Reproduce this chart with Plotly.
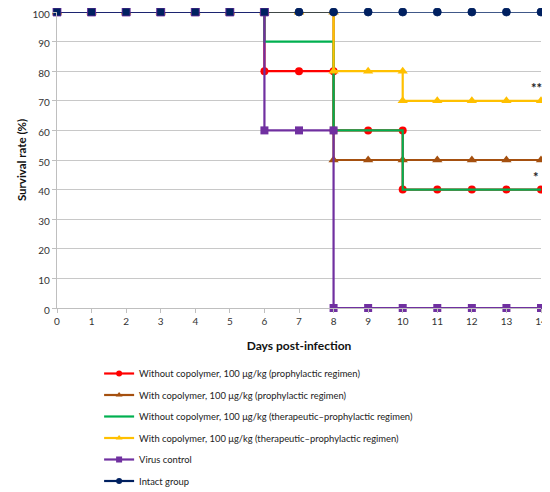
import plotly.graph_objects as go

# ---- data ----
names = [
    "Without copolymer, 100 μg/kg (prophylactic regimen)",
    "With copolymer, 100 μg/kg (prophylactic regimen)",
    "Without copolymer, 100 μg/kg (therapeutic–prophylactic regimen)",
    "With copolymer, 100 μg/kg (therapeutic–prophylactic regimen)",
    "Virus control",
    "Intact group",
]

red_x = [0, 1, 2, 3, 4, 5, 6, 6, 7, 8, 8, 9, 10, 10, 11, 12, 13, 14]
red_y = [100, 100, 100, 100, 100, 100, 100, 80, 80, 80, 60, 60, 60, 40, 40, 40, 40, 40]

brown_x = [0, 1, 2, 3, 4, 5, 6, 7, 8, 8, 9, 10, 11, 12, 13, 14]
brown_y = [100, 100, 100, 100, 100, 100, 100, 100, 100, 50, 50, 50, 50, 50, 50, 50]

green_x = [0, 1, 2, 3, 4, 5, 6, 6, 7, 8, 8, 9, 10, 10, 11, 12, 13, 14]
green_y = [100, 100, 100, 100, 100, 100, 100, 90, 90, 90, 60, 60, 60, 40, 40, 40, 40, 40]

yellow_x = [0, 1, 2, 3, 4, 5, 6, 7, 8, 8, 9, 10, 10, 11, 12, 13, 14]
yellow_y = [100, 100, 100, 100, 100, 100, 100, 100, 100, 80, 80, 80, 70, 70, 70, 70, 70]

purple_x = [0, 1, 2, 3, 4, 5, 6, 6, 7, 8, 8, 9, 10, 11, 12, 13, 14]
purple_y = [100, 100, 100, 100, 100, 100, 100, 60, 60, 60, 0, 0, 0, 0, 0, 0, 0]

intact_x = [0, 1, 2, 3, 4, 5, 6, 7, 8, 9, 10, 11, 12, 13, 14]
intact_y = [100, 100, 100, 100, 100, 100, 100, 100, 100, 100, 100, 100, 100, 100, 100]
# marker shape per intact point (squares on days 0-6 as in the original)
intact_symbols = ["square"] * 7 + ["circle"] * 8

sig_x = [14, 14]
sig_y = [70, 40]
sig_text = ["**", "*"]

x_ticks = list(range(0, 15))
y_ticks = list(range(0, 101, 10))

# ---- styles ----
RED = "#FF0000"
BROWN = "#A5500F"
GREEN = "#00B050"
YELLOW = "#FFC000"
PURPLE = "#7030A0"
NAVY = "#002060"
FONT = "Lato"

fig = go.Figure()

series = [
    (red_x, red_y, RED, "circle", True, 8),
    (brown_x, brown_y, BROWN, "triangle-up", True, 9),
    (green_x, green_y, GREEN, None, False, 8),
    (yellow_x, yellow_y, YELLOW, "triangle-up", True, 9),
    (purple_x, purple_y, PURPLE, "square", True, 8),
]

for (xs, ys, col, sym, mk, sz) in series:
    fig.add_trace(go.Scatter(
        x=xs, y=ys, mode="lines+markers" if mk else "lines",
        line=dict(color=col, width=2.2),
        marker=dict(symbol=sym or "circle", size=sz, color=col),
        showlegend=False, cliponaxis=False, hoverinfo="skip",
    ))

fig.add_trace(go.Scatter(
    x=intact_x, y=intact_y, mode="lines+markers",
    line=dict(color=NAVY, width=1.6),
    marker=dict(symbol=intact_symbols, size=8, color=NAVY,
                line=dict(color=[PURPLE] * 7 + [NAVY] * 8, width=0.8)),
    showlegend=False, cliponaxis=False, hoverinfo="skip",
))

# legend proxies (smaller markers, like the original legend)
leg_styles = [(RED, "circle"), (BROWN, "triangle-up"), (GREEN, None),
              (YELLOW, "triangle-up"), (PURPLE, "square"), (NAVY, "circle")]
for i, (nm, (col, sym)) in enumerate(zip(names, leg_styles)):
    fig.add_trace(go.Scatter(
        x=[None], y=[None], name=nm, legendgroup=str(i),
        mode="lines+markers" if sym else "lines",
        line=dict(color=col, width=2.2),
        marker=dict(symbol=sym or "circle", size=6, color=col),
    ))

for sx, sy, st in zip(sig_x, sig_y, sig_text):
    fig.add_annotation(x=sx, y=sy, text="<b>%s</b>" % st, showarrow=False,
                       yshift=3, xshift=-5, xanchor="center", yanchor="bottom",
                       font=dict(family=FONT, size=13, color="#222222"))

# the page adds an 8px body margin, so the figure is 8px smaller on each side
fig.update_layout(
    width=542, height=484,
    margin=dict(l=49, r=9, t=4, b=184, autoexpand=False),
    plot_bgcolor="white", paper_bgcolor="white",
    font=dict(family=FONT, size=10, color="#333333"),
    xaxis=dict(range=[0, 14], tickvals=x_ticks, showgrid=False, zeroline=False,
               showline=True, linecolor="#BFBFBF", linewidth=1.3,
               ticks="outside", ticklen=4, tickcolor="#BFBFBF", automargin=False,
               ticklabeloverflow="allow",
               tickfont=dict(size=10, color="#333333", family=FONT),
               title=dict(text="<b>Days post-infection</b>", standoff=15,
                          font=dict(size=12, color="#111111", family=FONT))),
    yaxis=dict(range=[0, 100], tickvals=y_ticks, showgrid=True,
               gridcolor="#C8C8C8", gridwidth=1.1, zeroline=False,
               showline=True, linecolor="#BFBFBF", linewidth=1.3,
               ticks="outside", ticklen=4, tickcolor="#BFBFBF", automargin=False,
               ticklabeloverflow="allow", ticklabelshift=2,
               tickfont=dict(size=10, color="#333333", family=FONT),
               title=dict(text="<b>Survival rate (%)</b>", standoff=3,
                          font=dict(size=11.5, color="#111111", family=FONT))),
    legend=dict(x=0.087, xref="paper", y=0.2748, yref="container",
                xanchor="left", yanchor="top",
                traceorder="grouped", tracegroupgap=2.5, itemwidth=30,
                font=dict(size=9.4, color="#222222", family=FONT),
                bgcolor="rgba(0,0,0,0)"),
)

fig.write_html("out.html")
